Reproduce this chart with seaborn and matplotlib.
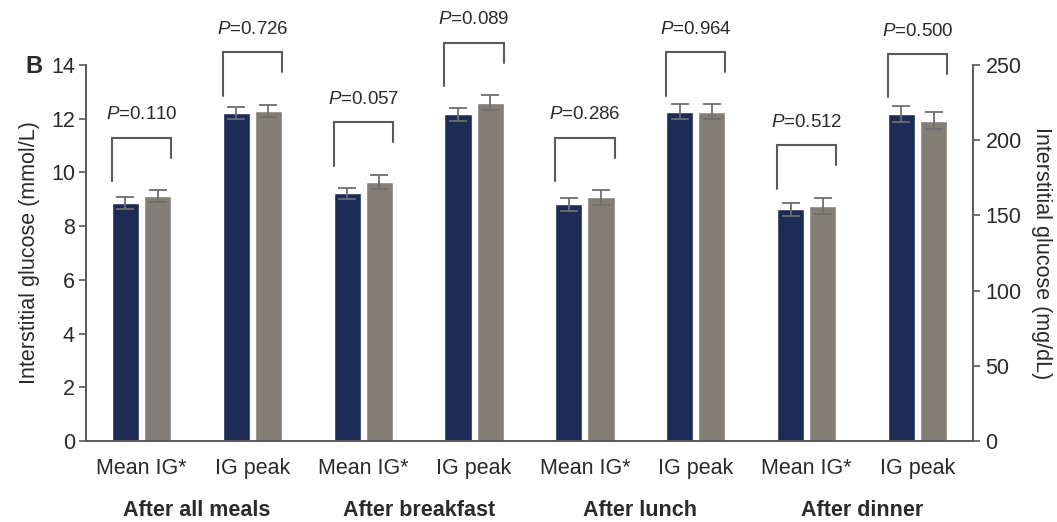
import numpy as np
import pandas as pd
import matplotlib
matplotlib.use("Agg")
import matplotlib.pyplot as plt
import matplotlib.transforms as mtransforms
from matplotlib.ticker import FixedLocator
import seaborn as sns

# ---- data -------------------------------------------------------------
groups = ["After all meals", "After breakfast", "After lunch", "After dinner"]
measures = ["Mean IG*", "IG peak"]
arms = ["Arm A", "Arm B"]

arm_a_mean = [8.85, 12.20, 9.22, 12.16, 8.81, 12.26, 8.63, 12.16]
arm_a_err = [0.22, 0.22, 0.20, 0.25, 0.23, 0.27, 0.24, 0.30]
arm_b_mean = [9.12, 12.29, 9.65, 12.60, 9.07, 12.26, 8.76, 11.93]
arm_b_err = [0.22, 0.23, 0.27, 0.28, 0.27, 0.27, 0.30, 0.33]
p_values = ["0.110", "0.726", "0.057", "0.089", "0.286", "0.964", "0.512", "0.500"]

left_ticks = [0, 2, 4, 6, 8, 10, 12, 14]
right_ticks = [0, 50, 100, 150, 200, 250]

# ---- styling ----------------------------------------------------------
sns.set_theme(style="white")
plt.rcParams["font.family"] = ["Liberation Sans", "DejaVu Sans"]
plt.rcParams["mathtext.fontset"] = "custom"
plt.rcParams["mathtext.rm"] = "Liberation Sans"
plt.rcParams["mathtext.it"] = "Liberation Sans:italic"

NAVY = "#1d2b57"
GREY = "#837e76"
LINE = "#5a5a5a"
TEXT = "#2a2a2a"
FS = 15.5

# long-form table: one row per bar
slots = [f"{g}|{m}" for g in groups for m in measures]
rows = []
for i, s in enumerate(slots):
    rows.append({"slot": s, "arm": arms[0], "value": arm_a_mean[i], "err": arm_a_err[i]})
    rows.append({"slot": s, "arm": arms[1], "value": arm_b_mean[i], "err": arm_b_err[i]})
df = pd.DataFrame(rows)

fig = plt.figure(figsize=(10.57, 5.22), dpi=100)
ax = fig.add_axes([0.0814, 0.155, 0.8391, 0.7205])

sns.barplot(data=df, x="slot", y="value", hue="arm", order=slots, hue_order=arms,
            palette=[NAVY, GREY], width=0.58, gap=0.155, errorbar=None,
            saturation=1, ax=ax, legend=False)

# error bars placed on the drawn bars
bars = [p for p in ax.patches if p.get_width() > 0]
bar_a = sorted([b for b in bars if matplotlib.colors.to_hex(b.get_facecolor()) == NAVY],
               key=lambda b: b.get_x())
bar_b = sorted([b for b in bars if matplotlib.colors.to_hex(b.get_facecolor()) == GREY],
               key=lambda b: b.get_x())
for blist, vals, errs in [(bar_a, arm_a_mean, arm_a_err), (bar_b, arm_b_mean, arm_b_err)]:
    xs = [b.get_x() + b.get_width() / 2 for b in blist]
    ax.errorbar(xs, vals, yerr=errs, fmt="none", ecolor="#6e6e6e",
                elinewidth=1.3, capsize=6.5, capthick=1.3, zorder=3)

ax.set_ylim(0, 14)
ax.set_xlim(-0.5, len(slots) - 0.5)
ax.yaxis.set_major_locator(FixedLocator(left_ticks))
ax.set_ylabel("Interstitial glucose (mmol/L)", fontsize=FS, color=TEXT, labelpad=8)
ax.set_xlabel("")
ax.set_xticks(range(len(slots)))
ax.set_xticklabels([s.split("|")[1] for s in slots], fontsize=FS, color=TEXT)
ax.xaxis.set_minor_locator(FixedLocator(np.arange(0.5, len(slots) - 0.5, 1.0)))
ax.tick_params(axis="x", which="major", length=0, pad=12)
ax.tick_params(axis="x", which="minor", length=4, width=1.2, color=LINE, direction="out")
ax.tick_params(axis="y", which="major", length=5, width=1.2, color=LINE,
               labelsize=FS, labelcolor=TEXT, left=True, pad=3)

for side in ["top", "right"]:
    ax.spines[side].set_visible(False)
for side in ["left", "bottom"]:
    ax.spines[side].set_color(LINE)
    ax.spines[side].set_linewidth(1.4)

# secondary axis in mg/dL
ax2 = ax.twinx()
ax2.set_ylim(0, 250)
ax2.yaxis.set_major_locator(FixedLocator(right_ticks))
ax2.set_ylabel("Interstitial glucose (mg/dL)", fontsize=FS, color=TEXT,
               rotation=270, labelpad=22)
ax2.tick_params(axis="y", length=5, width=1.2, color=LINE, labelsize=FS,
                labelcolor=TEXT, right=True, pad=4)
for side in ["top", "left", "bottom"]:
    ax2.spines[side].set_visible(False)
ax2.spines["right"].set_color(LINE)
ax2.spines["right"].set_linewidth(1.4)

# group labels under each pair of measures
trans = mtransforms.blended_transform_factory(ax.transData, ax.transAxes)
for k, g in enumerate(groups):
    ax.text(2 * k + 0.5, -0.185, g, transform=trans, ha="center", va="center",
            fontsize=FS, fontweight="bold", color=TEXT)

# significance brackets with P values
for i in range(len(slots)):
    a, b = bar_a[i], bar_b[i]
    x0 = a.get_x()
    x1 = b.get_x() + b.get_width()
    top = max(arm_a_mean[i] + arm_a_err[i], arm_b_mean[i] + arm_b_err[i]) + 1.95
    ax.plot([x0, x0, x1, x1], [top - 1.62, top, top, top - 0.74],
            color=LINE, lw=1.5, clip_on=False, solid_joinstyle="miter", zorder=4)
    ax.text((x0 + x1) / 2, top + 0.85, f"$P$=" + p_values[i], ha="center",
            va="center", fontsize=13.5, color=TEXT, clip_on=False)

fig.text(0.0236, 0.873, "B", fontsize=17, fontweight="bold", color=TEXT,
         ha="left", va="center")

fig.savefig("out.png", dpi=100, facecolor="white")
